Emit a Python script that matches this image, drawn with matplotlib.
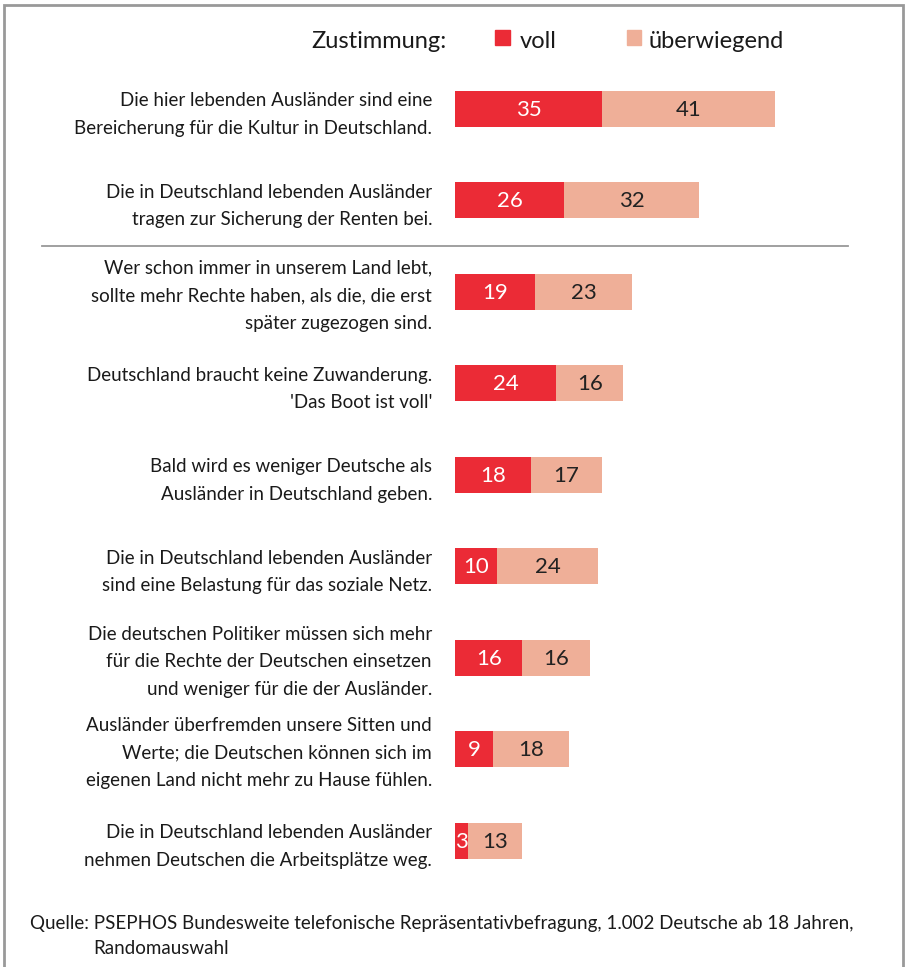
import matplotlib.pyplot as plt
from matplotlib.patches import Rectangle

plt.rcParams['font.family'] = ['Lato', 'DejaVu Sans']

statements = [
    "Die hier lebenden Ausländer sind eine\nBereicherung für die Kultur in Deutschland.",
    "Die in Deutschland lebenden Ausländer\ntragen zur Sicherung der Renten bei.",
    "Wer schon immer in unserem Land lebt,\nsollte mehr Rechte haben, als die, die erst\nspäter zugezogen sind.",
    "Deutschland braucht keine Zuwanderung.\n'Das Boot ist voll'",
    "Bald wird es weniger Deutsche als\nAusländer in Deutschland geben.",
    "Die in Deutschland lebenden Ausländer\nsind eine Belastung für das soziale Netz.",
    "Die deutschen Politiker müssen sich mehr\nfür die Rechte der Deutschen einsetzen\nund weniger für die der Ausländer.",
    "Ausländer überfremden unsere Sitten und\nWerte; die Deutschen können sich im\neigenen Land nicht mehr zu Hause fühlen.",
    "Die in Deutschland lebenden Ausländer\nnehmen Deutschen die Arbeitsplätze weg.",
]
voll = [35, 26, 19, 24, 18, 10, 16, 9, 3]
ueberwiegend = [41, 32, 23, 16, 17, 24, 16, 18, 13]

red = "#EB2B36"
salmon = "#EFAF98"

W, H = 906, 967
fig = plt.figure(figsize=(W / 100, H / 100), dpi=100)
ax = fig.add_axes([0, 0, 1, 1])
ax.axis("off")

px = 4.21          # pixels per percent
x0 = 455           # left edge of bars in pixels
y0, dy = 109, 91.5 # first bar centre and spacing in pixels
ax.set_xlim(-x0 / px, (W - x0) / px)
ax.set_ylim((H - y0) / dy, -y0 / dy)

ys = list(range(len(statements)))
ax.barh(ys, voll, height=36 / dy, color=red, linewidth=0)
ax.barh(ys, ueberwiegend, left=voll, height=36 / dy, color=salmon, linewidth=0)

for y, v, u, s in zip(ys, voll, ueberwiegend, statements):
    ax.text(v / 2, y + 0.01, str(v), ha="center", va="center", color="white", fontsize=16)
    ax.text(v + u / 2, y + 0.01, str(u), ha="center", va="center", color="#222222", fontsize=16)
    nlines = s.count("\n") + 1
    ax.text(-23 / px, y + (0.06 if nlines == 2 else 0.04), s, ha="right", va="center",
            fontsize=13.5, color="#1a1a1a", linespacing=1.75)

# separator line between first two items and the rest
ax.plot([(42 - x0) / px, (848 - x0) / px], [1.5, 1.5], color="#999999", lw=1.3)

# legend
fig.text(447 / W, 1 - 41 / H, "Zustimmung:", ha="right", va="center", fontsize=17, color="#1a1a1a")
fig.patches.append(Rectangle((495 / W, 1 - 45 / H), 15 / W, 15 / H, transform=fig.transFigure,
                             color=red, figure=fig))
fig.text(520 / W, 1 - 41 / H, "voll", ha="left", va="center", fontsize=17, color="#1a1a1a")
fig.patches.append(Rectangle((627 / W, 1 - 45 / H), 14 / W, 15 / H, transform=fig.transFigure,
                             color=salmon, figure=fig))
fig.text(648 / W, 1 - 41 / H, "überwiegend", ha="left", va="center", fontsize=17, color="#1a1a1a")

# source
fig.text(30 / W, 1 - 923 / H, "Quelle: PSEPHOS Bundesweite telefonische Repräsentativbefragung, 1.002 Deutsche ab 18 Jahren,",
         ha="left", va="center", fontsize=13.5, color="#1a1a1a")
fig.text(93 / W, 1 - 948 / H, "Randomauswahl", ha="left", va="center", fontsize=13.5, color="#1a1a1a")

# frame
fig.patches.append(Rectangle((4 / W, -0.02), 899 / W, 1.02 - 5 / H, transform=fig.transFigure,
                             fill=False, edgecolor="#999999", lw=2, figure=fig))

fig.savefig("out.png", dpi=100)
